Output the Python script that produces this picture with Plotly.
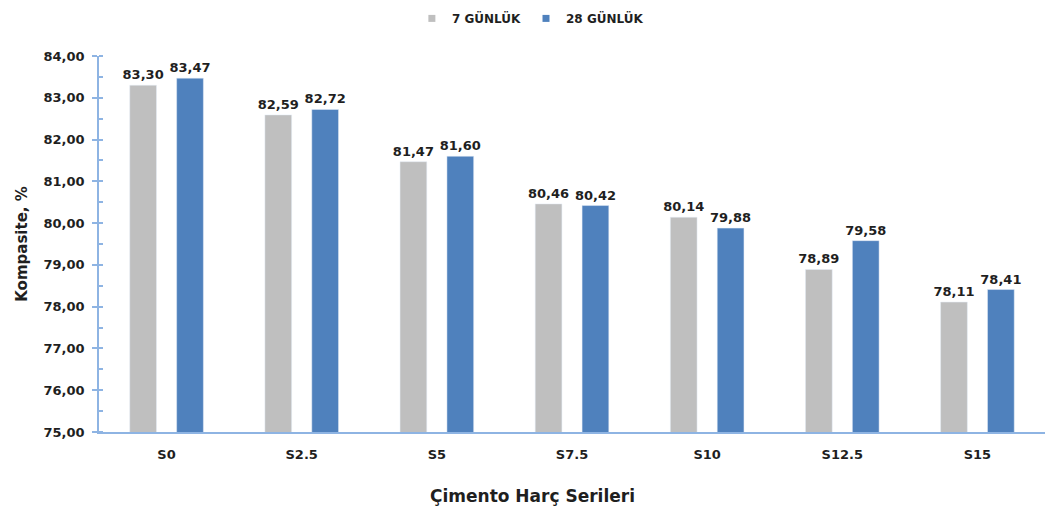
import plotly.graph_objects as go

categories = ["S0", "S2.5", "S5", "S7.5", "S10", "S12.5", "S15"]
gun7 = [83.30, 82.59, 81.47, 80.46, 80.14, 78.89, 78.11]
gun28 = [83.47, 82.72, 81.60, 80.42, 79.88, 79.58, 78.41]
series_names = ["7 GÜNLÜK", "28 GÜNLÜK"]
colors = ["#BFBFBF", "#4F81BD"]
y_range = [75, 84]

FONT = "DejaVu Sans"
TXT = "#1f1f1f"
AXIS = "#8EB4E3"

fig = go.Figure()
for name, vals, col in zip(series_names, [gun7, gun28], colors):
    fig.add_trace(go.Bar(
        x=categories, y=vals, name=name, marker_color=col, showlegend=False,
        text=[f"{v:.2f}".replace(".", ",") for v in vals],
        textposition="outside", cliponaxis=False, constraintext="none",
        textfont=dict(family=FONT, size=13, color=TXT, weight="bold"),
    ))
# legend-only entries with small square symbols
for name, col in zip(series_names, colors):
    fig.add_trace(go.Scatter(
        x=[None], y=[None], mode="markers", name=name,
        marker=dict(symbol="square", size=7, color=col),
    ))

fig.update_layout(
    width=1045, height=512,
    margin=dict(l=99, r=0, t=56, b=80),
    paper_bgcolor="white", plot_bgcolor="white",
    barmode="group", bargap=0.306, bargroupgap=0.43,
    separators=",.",
    font=dict(family=FONT, color=TXT),
    legend=dict(orientation="h", x=0.456, xanchor="center", y=1.10, yanchor="middle",
                font=dict(family=FONT, size=12, color=TXT, weight="bold"),
                itemwidth=30, traceorder="normal"),
    showlegend=True,
)
fig.update_yaxes(
    range=y_range, dtick=1, tickformat=".2f",
    showgrid=False, zeroline=False,
    showline=True, linecolor=AXIS, linewidth=1.5,
    ticks="outside", ticklen=5, tickcolor=AXIS, tickwidth=1.5,
    minor=dict(ticks="inside", ticklen=4, tickcolor=AXIS, dtick=0.5, showgrid=False),
    tickfont=dict(family=FONT, size=13, color=TXT, weight="bold"),
    ticklabelstandoff=5,
    title=dict(text="Kompasite, %", font=dict(family=FONT, size=15, color=TXT, weight="bold"), standoff=12),
)
fig.update_xaxes(
    showgrid=False, showline=True, linecolor=AXIS, linewidth=1.5,
    ticks="", tickfont=dict(family=FONT, size=13, color=TXT, weight="bold"),
    ticklabelstandoff=10,
)
fig.add_annotation(
    text="Çimento Harç Serileri", xref="paper", yref="paper",
    x=0.458, y=-0.17, xanchor="center", yanchor="middle", showarrow=False,
    font=dict(family=FONT, size=17, color=TXT, weight="bold"),
)
fig.write_html("out.html")
